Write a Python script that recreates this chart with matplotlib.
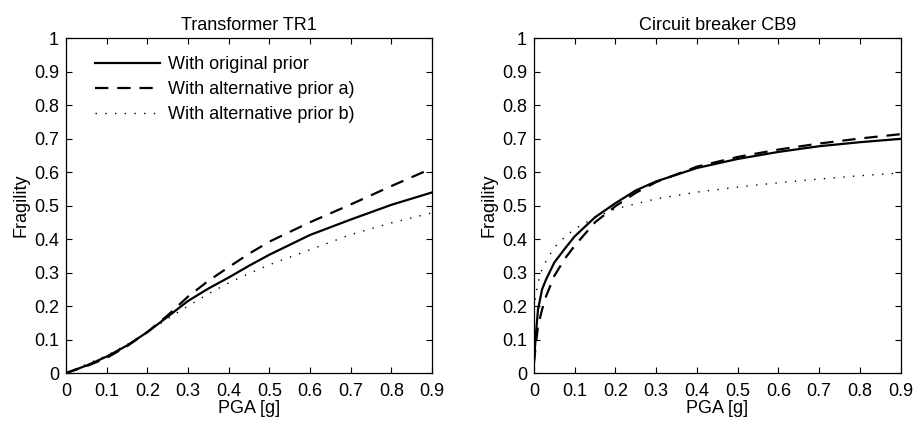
import numpy as np
import matplotlib
import matplotlib.pyplot as plt
from matplotlib.ticker import FuncFormatter

matplotlib.use('Agg')
plt.rcParams['font.family'] = ['Liberation Sans', 'DejaVu Sans']
plt.rcParams['font.size'] = 13

# Transformer TR1
tr_pga = [0.0, 0.05, 0.1, 0.15, 0.2, 0.25, 0.3, 0.35, 0.4, 0.45, 0.5, 0.6, 0.7, 0.8, 0.9]
tr_original = [0.0, 0.022, 0.049, 0.082, 0.122, 0.168, 0.215, 0.252, 0.285, 0.320, 0.353, 0.412, 0.458, 0.502, 0.539]
tr_alt_a = [0.0, 0.020, 0.045, 0.080, 0.122, 0.172, 0.228, 0.275, 0.316, 0.356, 0.392, 0.450, 0.503, 0.558, 0.611]
tr_alt_b = [0.0, 0.026, 0.052, 0.085, 0.122, 0.162, 0.200, 0.236, 0.269, 0.297, 0.323, 0.368, 0.413, 0.448, 0.478]

# Circuit breaker CB9
cb_pga = [0.0, 0.005, 0.01, 0.02, 0.03, 0.05, 0.075, 0.1, 0.15, 0.2, 0.25, 0.3, 0.4, 0.5, 0.6, 0.7, 0.8, 0.9]
cb_original = [0.035, 0.12, 0.19, 0.25, 0.28, 0.33, 0.37, 0.408, 0.465, 0.507, 0.545, 0.572, 0.612, 0.639, 0.660, 0.677, 0.689, 0.699]
cb_alt_a = [0.03, 0.09, 0.14, 0.19, 0.23, 0.29, 0.34, 0.38, 0.45, 0.498, 0.538, 0.570, 0.616, 0.645, 0.667, 0.685, 0.700, 0.713]
cb_alt_b = [0.19, 0.235, 0.27, 0.31, 0.335, 0.375, 0.405, 0.43, 0.465, 0.49, 0.505, 0.52, 0.54, 0.555, 0.568, 0.579, 0.589, 0.597]

titles = ['Transformer TR1', 'Circuit breaker CB9']
labels = ['With original prior', 'With alternative prior a)', 'With alternative prior b)']

fig = plt.figure(figsize=(9.14, 4.21), dpi=100)
ax1 = fig.add_axes([0.0722, 0.114, 0.4004, 0.7957])
ax2 = fig.add_axes([0.5842, 0.114, 0.4012, 0.7957])

panels = [(ax1, tr_pga, tr_original, tr_alt_a, tr_alt_b),
          (ax2, cb_pga, cb_original, cb_alt_a, cb_alt_b)]

fmt = FuncFormatter(lambda v, p: '%g' % round(v, 2))

for (ax, x, y0, ya, yb), title in zip(panels, titles):
    ax.plot(x, y0, color='black', lw=1.6, label=labels[0])
    ax.plot(x, ya, color='black', lw=1.6, dashes=(6, 4), label=labels[1])
    ax.plot(x, yb, color='black', lw=1.0, dashes=(1, 6), label=labels[2])

    ax.set_xlim(0, 0.9)
    ax.set_ylim(0, 1)
    ax.set_xticks(np.arange(0, 0.91, 0.1))
    ax.set_yticks(np.arange(0, 1.01, 0.1))
    ax.xaxis.set_major_formatter(fmt)
    ax.yaxis.set_major_formatter(fmt)
    ax.tick_params(direction='in', length=4, width=0.8, top=True, right=True)
    ax.tick_params(axis='x', pad=7)
    ax.tick_params(axis='y', pad=5)
    for s in ax.spines.values():
        s.set_linewidth(0.9)

    ax.set_title(title, fontsize=13, pad=6)
    ax.set_xlabel('PGA [g]', labelpad=0)
    ax.set_ylabel('Fragility', labelpad=3)

ax1.legend(loc='upper left', frameon=False, handlelength=3.6, handletextpad=0.45,
           labelspacing=0.45, borderaxespad=0.6, bbox_to_anchor=(0.03, 1.0))

fig.savefig('out.png', dpi=100)
